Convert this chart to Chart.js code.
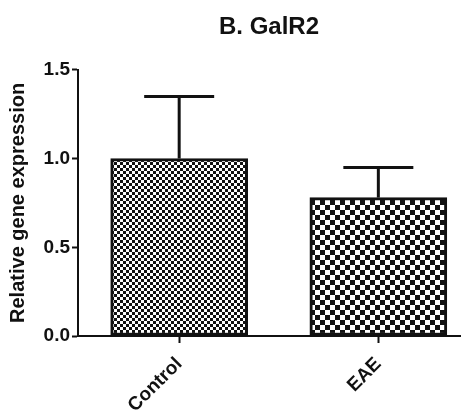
<!DOCTYPE html>
<html><head><meta charset="utf-8">
<script src="https://cdn.jsdelivr.net/npm/chart.js@4"></script>
<style>html,body{margin:0;padding:0;background:#fff}</style>
</head><body>
<canvas id="c" width="471" height="415"></canvas>
<script>
const title = "B. GalR2";
const yTitle = "Relative gene expression";
const categories = ["Control", "EAE"];
const means = [1.0, 0.78];
const sems = [0.35, 0.17];
const yTicks = [0.0, 0.5, 1.0, 1.5];

function checker(size) {
  const c = document.createElement('canvas');
  c.width = size * 2; c.height = size * 2;
  const g = c.getContext('2d');
  g.fillStyle = '#fff'; g.fillRect(0, 0, size * 2, size * 2);
  g.fillStyle = '#111';
  g.fillRect(0, 0, size, size);
  g.fillRect(size, size, size, size);
  return document.getElementById('c').getContext('2d').createPattern(c, 'repeat');
}
const patterns = [checker(3), checker(5)];

const errorBars = {
  id: 'errorBars',
  afterDatasetsDraw(chart) {
    const ctx = chart.ctx, ys = chart.scales.y;
    const meta = chart.getDatasetMeta(0);
    ctx.save();
    ctx.strokeStyle = '#111'; ctx.lineWidth = 3; ctx.lineCap = 'butt';
    meta.data.forEach((bar, i) => {
      const x = bar.x;
      const y0 = ys.getPixelForValue(means[i]);
      const y1 = ys.getPixelForValue(means[i] + sems[i]);
      ctx.beginPath(); ctx.moveTo(x, y0); ctx.lineTo(x, y1); ctx.stroke();
      ctx.beginPath(); ctx.moveTo(x - 35, y1); ctx.lineTo(x + 35, y1); ctx.stroke();
    });
    ctx.restore();
  }
};

const font = 'Liberation Sans, Arial, sans-serif';
new Chart(document.getElementById('c'), {
  type: 'bar',
  data: {
    datasets: [{
      data: categories.map((c, i) => ({ x: i, y: means[i] })),
      backgroundColor: patterns,
      borderColor: '#111',
      borderWidth: 3,
      borderSkipped: false,
      barThickness: 137
    }]
  },
  options: {
    responsive: false,
    animation: false,
    layout: { padding: { left: 0, right: 11, top: 0, bottom: 0 } },
    plugins: {
      legend: { display: false },
      tooltip: { enabled: false },
      title: {
        display: true, text: title, color: '#111', fullSize: false,
        font: { family: font, size: 24, weight: 'bold' },
        padding: { top: 13, bottom: 28 }
      }
    },
    scales: {
      x: {
        type: 'linear', min: -0.508, max: 1.41, offset: false,
        afterBuildTicks(ax) { ax.ticks = categories.map((c, i) => ({ value: i })); },
        afterFit(ax) { ax.height = 79; },
        grid: { offset: false, drawOnChartArea: false, drawTicks: true, tickLength: 7, tickWidth: 2, tickColor: '#111' },
        border: { display: true, color: '#111', width: 2 },
        ticks: {
          autoSkip: false, minRotation: 45, maxRotation: 45, color: '#111', padding: 10,
          font: { family: font, size: 19, weight: 'bold' },
          callback: (v) => categories[v]
        }
      },
      y: {
        min: 0, max: 1.5,
        afterBuildTicks(ax) { ax.ticks = yTicks.map(v => ({ value: v })); },
        afterFit(ax) { ax.width = 78; },
        grid: { drawOnChartArea: false, drawTicks: true, tickLength: 6, tickWidth: 2, tickColor: '#111' },
        border: { display: true, color: '#111', width: 2 },
        ticks: {
          color: '#111', padding: 2,
          font: { family: font, size: 19, weight: 'bold' },
          callback: (v) => v.toFixed(1)
        },
        title: {
          display: true, text: yTitle, color: '#111',
          font: { family: font, size: 20, weight: 'bold' },
          padding: { top: 6, bottom: 0 }
        }
      }
    }
  },
  plugins: [errorBars]
});
</script>
</body></html>
